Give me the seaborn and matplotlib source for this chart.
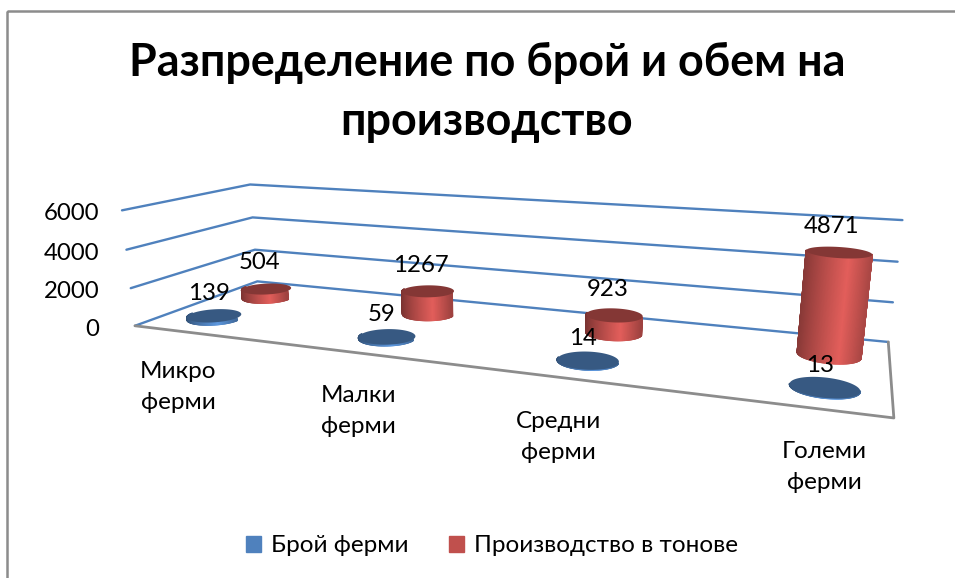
import numpy as np
import pandas as pd
import matplotlib
matplotlib.use("Agg")
import matplotlib.pyplot as plt
from matplotlib.collections import PolyCollection
from matplotlib.colors import to_rgb
from matplotlib.patches import Patch, Polygon, Rectangle
import seaborn as sns

# data
categories = ["Микро\nферми", "Малки\nферми", "Средни\nферми", "Големи\nферми"]
series_names = ["Брой ферми", "Производство в тонове"]
farm_count = [139, 59, 14, 13]
production = [504, 1267, 923, 4871]
value_ticks = [0, 2000, 4000, 6000]

BLUE = "#4f81bd"
RED = "#c0504d"

sns.set_theme(style="white")
plt.rcParams["font.family"] = ["Lato", "Open Sans", "DejaVu Sans"]

# box corners (category, depth, value) -> pixel, used to fit the camera
world_pts = np.array([
    [0, 0, 0], [0, 0, 2000], [0, 0, 4000], [0, 0, 6000],
    [0, 1, 0], [0, 1, 2000], [0, 1, 4000], [0, 1, 6000],
    [4, 1, 0], [4, 1, 2000], [4, 1, 4000], [4, 1, 6000],
    [4, 0, 0],
], dtype=float)
pixel_pts = np.array([
    [135, 325], [131, 288], [126, 250], [122, 211],
    [257, 282], [255, 250], [253, 217], [250, 184],
    [888, 342], [893, 302], [898, 262], [902, 220],
    [894, 418],
], dtype=float)


def fit_camera(world, pix):
    w = world / np.array([1, 1, 1000.0])
    rows = []
    rhs = []
    for (a, b, c), (u, v) in zip(w, pix):
        rows.append([a, b, c, 1, 0, 0, 0, 0, -u * a, -u * b, -u * c])
        rows.append([0, 0, 0, 0, a, b, c, 1, -v * a, -v * b, -v * c])
        rhs += [u, v]
    sol = np.linalg.lstsq(np.array(rows), np.array(rhs), rcond=None)[0]
    return np.append(sol, 1).reshape(3, 4)


CAM = fit_camera(world_pts, pixel_pts)


def project(cat, depth, value):
    cat, depth, value = np.broadcast_arrays(cat, depth, value)
    pts = np.stack([cat, depth, value / 1000.0, np.ones_like(cat, dtype=float)], axis=-1)
    res = pts @ CAM.T
    return res[..., :2] / res[..., 2:3]


def mix(color, f):
    c = np.array(to_rgb(color))
    return tuple(np.clip(c * f, 0, 1))


def shade(t):
    # dark left, highlight right of the middle, less dark on the right
    peak = 0.62
    if t < peak:
        return 0.62 + 0.56 * (t / peak) ** 0.8
    return 0.82 + 0.36 * (1 - t) / (1 - peak)


def draw_cylinder(ax, i, depth, value, color, rx=0.155, ry=0.125):
    cx = 0.32 + 1.13 * i
    ang = np.linspace(0, 2 * np.pi, 241)
    xs = cx + rx * np.cos(ang)
    ys = depth + ry * np.sin(ang)
    bottom = project(xs, ys, np.zeros_like(ang))
    top = project(xs, ys, np.full_like(ang, float(value)))
    polys, cols = [], []
    # front half of the wall only
    front = np.where(np.sin(ang[:-1]) <= 0.02)[0]
    left = min(bottom[front, 0].min(), top[front, 0].min())
    right = max(bottom[front, 0].max(), top[front, 0].max())
    for k in front:
        polys.append([bottom[k], bottom[k + 1], top[k + 1], top[k]])
        t = (bottom[k, 0] + top[k, 0]) / 2
        cols.append(mix(color, shade((t - left) / (right - left))))
    ax.add_collection(PolyCollection(polys, facecolors=cols, edgecolors=cols, linewidths=1.0, zorder=3 + i))
    ax.add_patch(Polygon(top, closed=True, facecolor=mix(color, 0.69), edgecolor="none", zorder=3.5 + i))
    return project(cx, depth, float(value))


fig, ax = plt.subplots(figsize=(9.55, 5.78), dpi=100)
fig.subplots_adjust(0, 0, 1, 1)
ax.set_xlim(0, 955)
ax.set_ylim(578, 0)
ax.axis("off")

# chart border
ax.add_patch(Rectangle((7, 11), 960, 600, fill=False, edgecolor="#8c8c8c", linewidth=1.8))

# grid lines on the walls
rows = []
for v in value_ticks:
    for k, (c, d) in enumerate([(0, 0), (0, 1), (4, 1)]):
        px = project(c, d, float(v))
        rows.append({"value": v, "order": k, "px": px[0], "py": px[1]})
grid = pd.DataFrame(rows)
sns.lineplot(data=grid, x="px", y="py", units="value", estimator=None, sort=False,
             color=BLUE, linewidth=1.7, ax=ax, legend=False, zorder=1)

# floor outline
floor = np.array([project(c, d, 0.0) for c, d in [(0, 0), (4, 0), (4, 1)]])
ax.plot(floor[:, 0], floor[:, 1], color="#8c8c8c", linewidth=2, zorder=2)

# value axis labels
for v, y in zip(value_ticks, [327, 289, 251, 211]):
    ax.text(99, y + 2, str(v), ha="right", va="center", fontsize=17.3, color="black")

# cylinders, back row first
for i, v in enumerate(production):
    top = draw_cylinder(ax, i, 0.70, v, RED)
    ax.text(top[0] - 7, top[1] - 26, str(v), ha="center", va="center", fontsize=17.3, color="black", zorder=20)
for i, v in enumerate(farm_count):
    top = draw_cylinder(ax, i, 0.25, v, BLUE)
    ax.text(top[0] - 5, top[1] - 22, str(v), ha="center", va="center", fontsize=17.3, color="black", zorder=20)

# category labels
cat_pos = [(178, 387), (358, 411), (558, 437), (824, 467)]
for name, (x, y) in zip(categories, cat_pos):
    ax.text(x, y, name, ha="center", va="center", fontsize=17.5, linespacing=1.62, color="black")

# title
ax.text(487, 92, "Разпределение по брой и обем на\nпроизводство", ha="center", va="center",
        fontsize=32.3, fontweight="bold", linespacing=1.5, color="black")

# legend
handles = [Patch(color=BLUE), Patch(color=RED)]
ax.legend(handles, series_names, ncol=2, frameon=False, fontsize=17.5, loc="center", labelcolor="black",
          bbox_to_anchor=(492, 546), bbox_transform=ax.transData,
          handlelength=0.6, handleheight=0.6, handletextpad=0.4, columnspacing=1.7)

fig.savefig("out.png", dpi=100)
